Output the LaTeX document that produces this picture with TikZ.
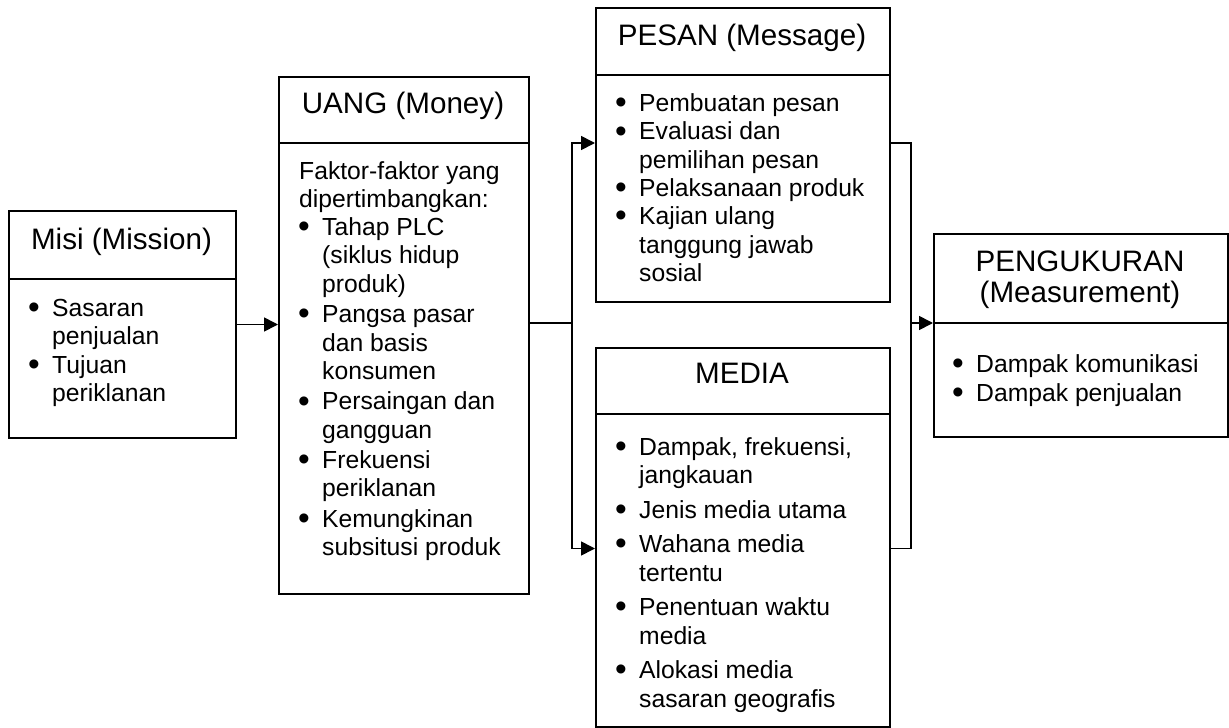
\documentclass[tikz,border=0pt]{standalone}
\usepackage{fontspec}
\usepackage{graphicx}
\setmainfont{Liberation Sans}
\usetikzlibrary{arrows.meta}
\newcommand{\bodyf}{\fontsize{24.7}{28.3}\selectfont}
\newcommand{\titlef}{\fontsize{29.6}{30.5}\selectfont}
\newcommand{\bul}{\smash{\raisebox{-2.2pt}{\scalebox{1.35}{\textbullet}}}}
\newcommand{\bi}[1]{\hbox{\hspace*{-1pt}\makebox[24pt][l]{\bul}#1}}
\newcommand{\ci}[1]{\hbox{\hspace*{23pt}#1}}
\newcommand{\pli}[1]{\hbox{#1}}
\newcommand{\gp}[1]{\vskip#1pt}
\tikzset{
  box/.style={draw, line width=2pt, inner sep=0pt, anchor=north west},
  divider/.style={line width=2pt},
  conn/.style={line width=1.7pt},
  arr/.style={conn, -{Triangle[length=14pt,width=14pt]}},
  ttl/.style={anchor=base, inner sep=0pt, font=\titlef},
  body/.style={anchor=base west, inner sep=0pt, font=\bodyf},
}
\begin{document}
\begin{tikzpicture}[x=1pt,y=-1pt]
\useasboundingbox (0,0) rectangle (1229,728);
\fill[white] (0,0) rectangle (1229,728);

% boxes
\node[box, minimum width=227pt, minimum height=227pt] (misi) at (8,210) {};
\node[box, minimum width=250pt, minimum height=517pt] (uang) at (278,76) {};
\node[box, minimum width=294pt, minimum height=294pt] (pesan) at (595,7) {};
\node[box, minimum width=294pt, minimum height=379pt] (media) at (595,347) {};
\node[box, minimum width=294pt, minimum height=203pt] (peng) at (933,233) {};

% dividers
\draw[divider] (misi.west |- 0,279) -- (misi.east |- 0,279);
\draw[divider] (uang.west |- 0,143) -- (uang.east |- 0,143);
\draw[divider] (pesan.west |- 0,75) -- (pesan.east |- 0,75);
\draw[divider] (media.west |- 0,414) -- (media.east |- 0,414);
\draw[divider] (peng.west |- 0,323) -- (peng.east |- 0,323);

% titles
\node[ttl] (misiT) at (121.5,249.3) {Misi (Mission)};
\node[ttl] (uangT) at (403,113) {UANG (Money)};
\node[ttl] (pesanT) at (742,45) {PESAN (Message)};
\node[ttl] (mediaT) at (742,383) {MEDIA};
\node[ttl] (pengT) at (1080,271.7) {\vtop{\baselineskip=30.5pt\halign{\hfil#\hfil\cr PENGUKURAN\cr (Measurement)\cr}}};

% bodies
\node[body] (misiB) at (29,316.5) {\vtop{\bi{Sasaran}\ci{penjualan}\bi{Tujuan}\ci{periklanan}}};
\node[body] (uangB) at (299,179) {\vtop{\pli{Faktor-faktor yang}\pli{dipertimbangkan:}%
  \bi{Tahap PLC}\ci{(siklus hidup}\ci{produk)}\gp{2.2}%
  \bi{Pangsa pasar}\ci{dan basis}\ci{konsumen}\gp{2.2}%
  \bi{Persaingan dan}\ci{gangguan}\gp{2.2}%
  \bi{Frekuensi}\ci{periklanan}\gp{2.2}%
  \bi{Kemungkinan}\ci{subsitusi produk}}};
\node[body] (pesanB) at (616,111.5) {\vtop{\bi{Pembuatan pesan}\bi{Evaluasi dan}\ci{pemilihan pesan}%
  \bi{Pelaksanaan produk}\bi{Kajian ulang}\ci{tanggung jawab}\ci{sosial}}};
\node[body] (mediaB) at (616,455) {\vtop{\bi{Dampak, frekuensi,}\ci{jangkauan}\gp{6.4}%
  \bi{Jenis media utama}\gp{6.4}%
  \bi{Wahana media}\ci{tertentu}\gp{6.4}%
  \bi{Penentuan waktu}\ci{media}\gp{6.4}%
  \bi{Alokasi media}\ci{sasaran geografis}}};
\node[body] (pengB) at (953,372.7) {\vtop{\bi{Dampak komunikasi}\bi{Dampak penjualan}}};

% connector junctions
\coordinate (jl) at (572,323);
\coordinate (jr) at (911,323);
\coordinate (pin) at (595,143);
\coordinate (min) at (595,548.5);

% connectors
\draw[arr] (misi.east) -- (uang.west |- misi.east);
\draw[conn] (uang.east |- jl) -- (jl);
\draw[arr] (jl) |- (pesan.west |- pin);
\draw[arr] (jl) |- (media.west |- min);
\draw[conn] (pesan.east |- pin) -| (jr);
\draw[conn] (media.east |- min) -| (jr);
\draw[arr] (jr) -- (peng.west |- jr);
\end{tikzpicture}
\end{document}
